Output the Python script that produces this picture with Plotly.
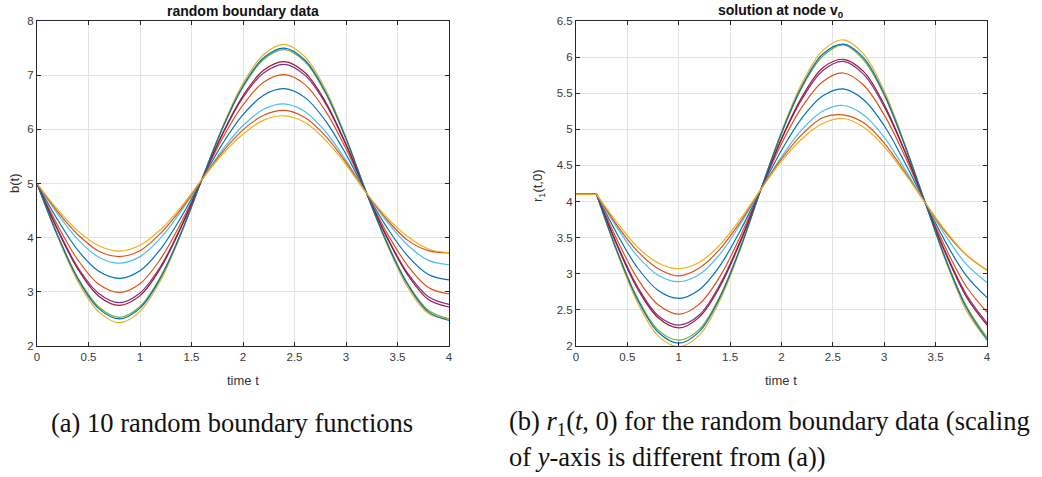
import plotly.graph_objects as go

# ---------------- data ----------------
T = [0.0, 0.2, 0.4, 0.6, 0.8, 1.0, 1.2, 1.4, 1.6, 1.8, 2.0,
     2.2, 2.4, 2.6, 2.8, 3.0, 3.2, 3.4, 3.6, 3.8, 4.0]

B1 = [5, 4.33, 3.76, 3.38, 3.25, 3.39, 3.79, 4.38, 5.07, 5.73, 6.27, 6.63, 6.75, 6.59, 6.16, 5.54, 4.82, 4.18, 3.66, 3.32, 3.22]
B2 = [5, 4.23, 3.58, 3.14, 2.99, 3.15, 3.61, 4.28, 5.07, 5.83, 6.45, 6.87, 7.01, 6.83, 6.34, 5.64, 4.82, 4.08, 3.48, 3.08, 2.96]
B3 = [5, 4.02, 3.18, 2.63, 2.43, 2.64, 3.21, 4.07, 5.07, 6.04, 6.85, 7.38, 7.57, 7.34, 6.74, 5.85, 4.82, 3.87, 3.08, 2.60, 2.50]
B4 = [5, 4.16, 3.44, 2.97, 2.80, 2.98, 3.47, 4.21, 5.07, 5.90, 6.59, 7.04, 7.20, 7.00, 6.48, 5.71, 4.82, 4.01, 3.34, 2.91, 2.77]
B5 = [5, 4.05, 3.25, 2.72, 2.53, 2.73, 3.28, 4.10, 5.07, 6.01, 6.78, 7.29, 7.47, 7.25, 6.67, 5.82, 4.82, 3.91, 3.15, 2.66, 2.50]
B6 = [5, 4.44, 3.96, 3.64, 3.53, 3.65, 3.99, 4.49, 5.07, 5.62, 6.07, 6.37, 6.47, 6.33, 5.96, 5.43, 4.82, 4.29, 3.86, 3.58, 3.50]
B7 = [5, 4.14, 3.41, 2.92, 2.75, 2.93, 3.44, 4.19, 5.07, 5.92, 6.62, 7.09, 7.25, 7.05, 6.51, 5.73, 4.82, 3.99, 3.31, 2.86, 2.72]
B8 = [5, 4.04, 3.23, 2.69, 2.50, 2.70, 3.26, 4.09, 5.07, 6.02, 6.80, 7.32, 7.50, 7.28, 6.69, 5.83, 4.82, 3.89, 3.13, 2.63, 2.47]
B9 = [5, 4.48, 4.05, 3.75, 3.65, 3.76, 4.08, 4.53, 5.07, 5.58, 5.99, 6.26, 6.35, 6.22, 5.88, 5.39, 4.82, 4.33, 3.95, 3.76, 3.72]
B10 = [5, 4.52, 4.12, 3.85, 3.75, 3.86, 4.15, 4.57, 5.07, 5.54, 5.91, 6.17, 6.25, 6.13, 5.80, 5.35, 4.82, 4.37, 4.02, 3.79, 3.72]

T_FLAT = [0.0, 0.2]
R_FLAT = [4.10, 4.10]

T_R = [0.2, 0.4, 0.6, 0.8, 1.0, 1.2, 1.4, 1.6, 1.8, 2.0,
       2.2, 2.4, 2.6, 2.8, 3.0, 3.2, 3.4, 3.6, 3.8, 4.0]

R1 = [4.10, 3.55, 3.08, 2.77, 2.66, 2.78, 3.11, 3.60, 4.17, 4.71, 5.16, 5.46, 5.56, 5.41, 5.05, 4.54, 3.98, 3.43, 2.97, 2.67]
R2 = [4.10, 3.47, 2.93, 2.57, 2.44, 2.58, 2.96, 3.52, 4.17, 4.80, 5.31, 5.66, 5.78, 5.61, 5.20, 4.63, 3.98, 3.35, 2.82, 2.47]
R3 = [4.10, 3.29, 2.60, 2.14, 1.99, 2.15, 2.63, 3.34, 4.17, 4.97, 5.64, 6.09, 6.24, 6.04, 5.53, 4.80, 3.98, 3.17, 2.49, 2.08]
R4 = [4.10, 3.41, 2.82, 2.42, 2.29, 2.43, 2.85, 3.46, 4.17, 4.86, 5.42, 5.81, 5.94, 5.76, 5.31, 4.69, 3.98, 3.29, 2.71, 2.32]
R5 = [4.10, 3.32, 2.66, 2.22, 2.08, 2.23, 2.69, 3.37, 4.17, 4.94, 5.58, 6.01, 6.17, 5.96, 5.47, 4.77, 3.98, 3.20, 2.55, 2.12]
R6 = [4.10, 3.64, 3.24, 2.98, 2.89, 2.99, 3.27, 3.69, 4.17, 4.62, 5.00, 5.25, 5.33, 5.20, 4.89, 4.45, 3.98, 3.52, 3.13, 2.88]
R7 = [4.10, 3.39, 2.79, 2.39, 2.25, 2.40, 2.82, 3.44, 4.17, 4.87, 5.45, 5.85, 5.97, 5.80, 5.34, 4.70, 3.98, 3.27, 2.68, 2.29]
R8 = [4.10, 3.31, 2.64, 2.19, 2.04, 2.20, 2.67, 3.36, 4.17, 4.95, 5.60, 6.04, 6.18, 5.99, 5.49, 4.78, 3.98, 3.19, 2.53, 2.09]
R9 = [4.10, 3.67, 3.31, 3.07, 2.97, 3.08, 3.34, 3.72, 4.17, 4.59, 4.93, 5.16, 5.20, 5.09, 4.81, 4.41, 3.98, 3.57, 3.26, 3.05]
R10 = [4.10, 3.71, 3.37, 3.15, 3.07, 3.16, 3.40, 3.76, 4.17, 4.56, 4.87, 5.08, 5.15, 5.03, 4.76, 4.39, 3.98, 3.59, 3.26, 3.05]

X_TICKS = [0, 0.5, 1, 1.5, 2, 2.5, 3, 3.5, 4]
Y_TICKS_A = [2, 3, 4, 5, 6, 7, 8]
Y_TICKS_B = [2, 2.5, 3, 3.5, 4, 4.5, 5, 5.5, 6, 6.5]

# ---------------- style ----------------
COLORS = ["#0072BD", "#D95319", "#EDB120", "#7E2F8E", "#77AC30",
          "#4DBEEE", "#A2142F", "#0072BD", "#D95319", "#EDB120"]
W, H = 1042, 477
AX_COLOR = "#262626"
GRID = "#e3e3e3"
SANS = "Liberation Sans, Arial, sans-serif"
SERIF = "Liberation Serif, Times New Roman, serif"

B_ALL = [B1, B2, B3, B4, B5, B6, B7, B8, B9, B10]
R_ALL = [R1, R2, R3, R4, R5, R6, R7, R8, R9, R10]

fig = go.Figure()
for i, b in enumerate(B_ALL):
    fig.add_trace(go.Scatter(x=T, y=b, mode="lines", xaxis="x", yaxis="y",
                             line=dict(color=COLORS[i], width=1.2, shape="spline", smoothing=1.0),
                             showlegend=False, hoverinfo="skip"))
for i, r in enumerate(R_ALL):
    fig.add_trace(go.Scatter(x=T_FLAT, y=R_FLAT, mode="lines", xaxis="x2", yaxis="y2",
                             line=dict(color=COLORS[i], width=1.2),
                             showlegend=False, hoverinfo="skip"))
    fig.add_trace(go.Scatter(x=T_R, y=r, mode="lines", xaxis="x2", yaxis="y2",
                             line=dict(color=COLORS[i], width=1.2, shape="spline", smoothing=1.0),
                             showlegend=False, hoverinfo="skip"))


def px_x(p):
    return p / W


def px_y(p):
    return 1 - p / H


y_dom = [px_y(346), px_y(21)]
axis_common = dict(showline=True, linecolor=AX_COLOR, linewidth=1, mirror="ticks",
                   ticks="inside", ticklen=4, tickcolor=AX_COLOR, tickwidth=1,
                   showgrid=True, gridcolor=GRID, gridwidth=1, zeroline=False,
                   automargin=False,
                   tickfont=dict(family=SANS, size=11.5, color="#3a3a3a"))

fig.update_layout(
    template="none",
    width=W, height=H,
    margin=dict(l=0, r=0, t=0, b=0, pad=0),
    paper_bgcolor="white", plot_bgcolor="white",
    xaxis=dict(domain=[px_x(37), px_x(449)], range=[0, 4], tickvals=X_TICKS,
               anchor="y", **axis_common),
    yaxis=dict(domain=y_dom, range=[2, 8], tickvals=Y_TICKS_A, anchor="x", **axis_common),
    xaxis2=dict(domain=[px_x(576), px_x(987)], range=[0, 4], tickvals=X_TICKS,
                anchor="y2", **axis_common),
    yaxis2=dict(domain=y_dom, range=[2, 6.5], tickvals=Y_TICKS_B, anchor="x2", **axis_common),
)

ann = []
# titles
ann.append(dict(text="<b>random boundary data</b>", x=px_x(243), y=px_y(11),
                font=dict(family=SANS, size=14, color="#111")))
ann.append(dict(text="<b>solution at node v<sub>0</sub></b>", x=px_x(781), y=px_y(11),
                font=dict(family=SANS, size=14, color="#111")))
# axis labels
ann.append(dict(text="time t", x=px_x(243), y=px_y(380),
                font=dict(family=SANS, size=13, color="#333")))
ann.append(dict(text="time t", x=px_x(781), y=px_y(380),
                font=dict(family=SANS, size=13, color="#333")))
ann.append(dict(text="b(t)", x=px_x(14), y=px_y(183), textangle=-90,
                font=dict(family=SANS, size=13, color="#333")))
ann.append(dict(text="r<sub>1</sub>(t,0)", x=px_x(538), y=px_y(186), textangle=-90,
                font=dict(family=SANS, size=13, color="#333")))
for a in ann:
    a.update(xref="paper", yref="paper", showarrow=False, xanchor="center", yanchor="middle")

captions = [
    dict(text="(a) 10 random boundary functions", x=px_x(49), y=px_y(423)),
    dict(text="(b) <i>r</i><sub>1</sub>(<i>t</i>, 0) for the random boundary data (scaling",
         x=px_x(507), y=px_y(423)),
    dict(text="of <i>y</i>-axis is different from (a))", x=px_x(507), y=px_y(457)),
]
for c in captions:
    c.update(xref="paper", yref="paper", showarrow=False, xanchor="left", yanchor="middle",
             font=dict(family=SERIF, size=26.5, color="#111"))
    ann.append(c)

fig.update_layout(annotations=ann)
fig.write_html("out.html",
               config={"displayModeBar": False, "staticPlot": True},
               post_script="document.body.style.margin='0';document.body.style.padding='0';")
